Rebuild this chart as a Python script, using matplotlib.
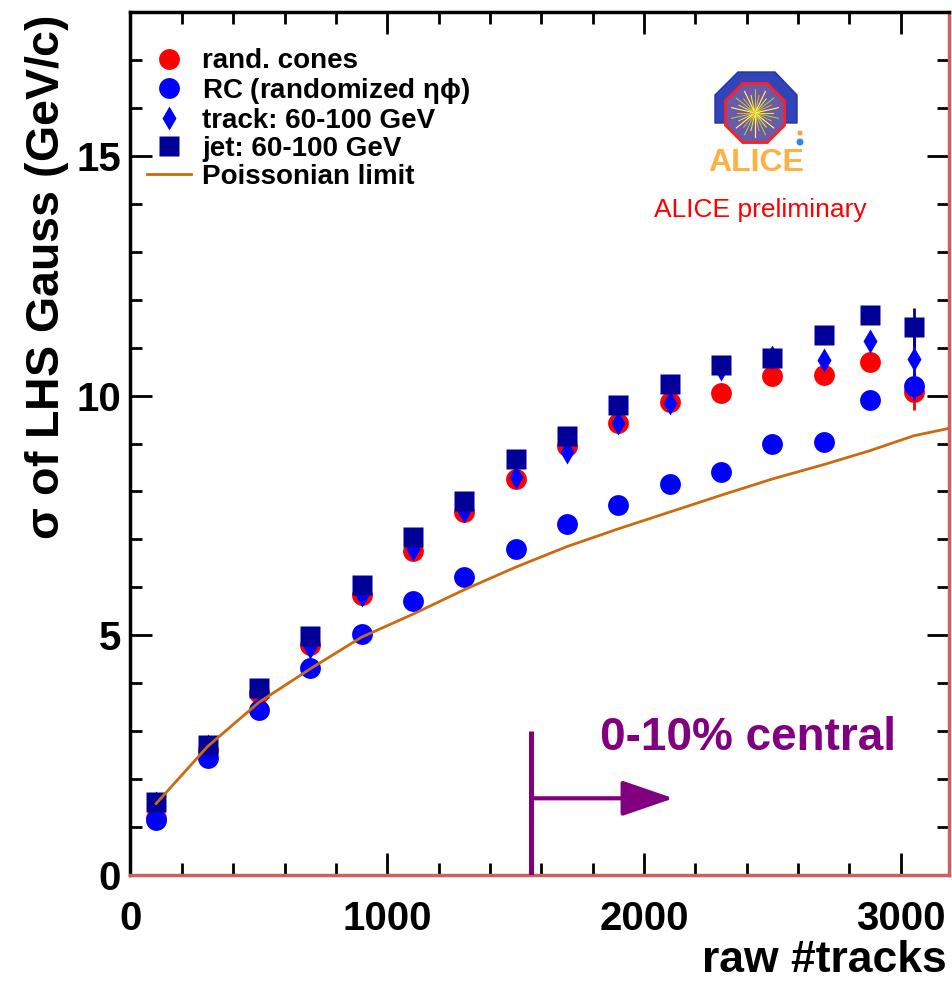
import numpy as np
import matplotlib
matplotlib.use("Agg")
import matplotlib.pyplot as plt
from matplotlib.patches import Polygon, RegularPolygon, Circle

plt.rcParams['font.family'] = ['Liberation Sans', 'DejaVu Sans']

# data
raw_tracks = [100, 300, 500, 700, 900, 1100, 1300, 1500, 1700, 1900,
              2100, 2300, 2500, 2700, 2880, 3050]
rand_cones = [1.18, 2.60, 3.80, 4.80, 5.85, 6.75, 7.57, 8.26, 8.95, 9.42,
              9.87, 10.06, 10.40, 10.42, 10.71, 10.08]
rand_cones_err = [0.05, 0.05, 0.05, 0.05, 0.05, 0.05, 0.05, 0.05, 0.05, 0.05,
                  0.08, 0.08, 0.1, 0.1, 0.15, 0.38]
rc_randomized = [1.15, 2.45, 3.45, 4.31, 5.02, 5.71, 6.21, 6.80, 7.32, 7.72,
                 8.16, 8.41, 9.00, 9.04, 9.90, 10.20]
rc_randomized_err = [0.03] * 15 + [0.3]
track_60_100 = [1.50, 2.70, 3.85, 4.75, 5.85, 6.80, 7.60, 8.30, 8.83, 9.43,
                9.85, 10.55, 10.80, 10.75, 11.13, 10.77]
track_60_100_err = [0.05] * 14 + [0.12, 0.5]
jet_60_100 = [1.53, 2.72, 3.91, 4.98, 6.05, 7.06, 7.80, 8.68, 9.16, 9.81,
              10.25, 10.63, 10.79, 11.26, 11.67, 11.42]
jet_60_100_err = [0.05] * 14 + [0.1, 0.4]

poisson_x = [100, 300, 500, 700, 900, 1100, 1300, 1500, 1700, 1900,
             2100, 2300, 2500, 2700, 2880, 3050, 3200]
poisson_y = [1.49, 2.68, 3.60, 4.30, 4.96, 5.44, 5.95, 6.42, 6.85, 7.22,
             7.57, 7.92, 8.26, 8.56, 8.85, 9.16, 9.33]

central_cut = 1561     # start of 0-10% central
cut_line_top = 3.0
arrow_y = 1.6
arrow_end = 2115

W, H = 953, 986
fig = plt.figure(figsize=(W / 100, H / 100), dpi=100)
ax = fig.add_axes([130.5 / W, 1 - 875 / H, 819 / W, 863 / H])

ax.errorbar(raw_tracks, rand_cones, yerr=rand_cones_err, fmt='none', ecolor='#ff0000', elinewidth=2, zorder=2)
ax.plot(raw_tracks, rand_cones, 'o', color='#ff0000', ms=15, mec='none', zorder=3, label='rand. cones')
ax.errorbar(raw_tracks, rc_randomized, yerr=rc_randomized_err, fmt='none', ecolor='#0000ff', elinewidth=2, zorder=4)
ax.plot(raw_tracks, rc_randomized, 'o', color='#0000ff', ms=15, mec='none', zorder=5,
        label='RC (randomized $\\mathregular{\\eta\\phi}$)')
ax.errorbar(raw_tracks, track_60_100, yerr=track_60_100_err, fmt='none', ecolor='#0000ff', elinewidth=2, zorder=6)
ax.plot(raw_tracks, track_60_100, 'd', color='#0000ff', ms=12, mec='none', zorder=7, label='track: 60-100 GeV')
ax.errorbar(raw_tracks, jet_60_100, yerr=jet_60_100_err, fmt='none', ecolor='#000099', elinewidth=2, zorder=8)
ax.plot(raw_tracks, jet_60_100, 's', color='#000099', ms=14.4, mec='none', zorder=9, label='jet: 60-100 GeV')
ax.plot(poisson_x, poisson_y, '-', color='#cc6a10', lw=2.0, zorder=10, label='Poissonian limit')

ax.set_xlim(0, 3190)
ax.set_ylim(0, 18)
ax.set_xticks([0, 1000, 2000, 3000])
ax.set_xticks(np.arange(0, 3200, 200), minor=True)
ax.set_yticks([0, 5, 10, 15])
ax.set_yticks(np.arange(0, 18, 1), minor=True)
ax.tick_params(which='both', direction='in', top=True, right=True, width=2, color='black')
ax.tick_params(which='major', length=16, labelsize=29)
ax.tick_params(which='minor', length=8.5)
ax.tick_params(axis='x', pad=18)
ax.tick_params(axis='y', pad=7)
for lbl in ax.get_xticklabels() + ax.get_yticklabels():
    lbl.set_fontweight('bold')
for side in ['left', 'top']:
    ax.spines[side].set_linewidth(2.5)
    ax.spines[side].set_color('black')
for side in ['bottom', 'right']:
    ax.spines[side].set_linewidth(2.5)
    ax.spines[side].set_color('#d06060')

leg = ax.legend(loc='upper left', bbox_to_anchor=(0.02, 0.958), frameon=False,
                prop={'size': 20, 'weight': 'bold'}, borderpad=0, borderaxespad=0,
                handlelength=1.6, handletextpad=0.4, labelspacing=0.07)

# centrality marker
ax.plot([central_cut, central_cut], [0, cut_line_top], color='#800080', lw=3.6, zorder=11,
        solid_capstyle='butt')
ax.annotate('', xy=(arrow_end, arrow_y), xytext=(central_cut, arrow_y),
            arrowprops=dict(arrowstyle='-|>,head_length=3.2,head_width=1.1', color='#800080',
                            lw=3, shrinkA=0, shrinkB=0), zorder=11)
fig.text(600 / W, 1 - 738 / H, '0-10% central', color='#800080', fontsize=33,
         fontweight='bold', ha='left', va='center')

fig.text(47 / W, 1 - 278 / H, '$\\mathregular{\\sigma}$ of LHS Gauss (GeV/c)', rotation=90,
         fontsize=33.5, fontweight='bold', ha='center', va='center')
fig.text(947 / W, 1 - 960 / H, 'raw #tracks', fontsize=32, fontweight='bold',
         ha='right', va='center')

fig.text(760 / W, 1 - 210 / H, 'ALICE preliminary', color='#ff0000', fontsize=19,
         ha='center', va='center')

# ALICE logo sketch, in pixel coordinates
lax = fig.add_axes([700 / W, 1 - 180 / H, 115 / W, 115 / H])
lax.set_xlim(700, 815)
lax.set_ylim(180, 65)
lax.axis('off')
lax.add_patch(Polygon([(738, 72), (775, 72), (797, 95), (797, 123), (715, 123), (715, 95)],
                      closed=True, fc='#3344bb', ec='#2233aa', lw=1))
lax.add_patch(RegularPolygon((755, 113), 8, radius=32, orientation=np.pi / 8,
                             fc='#6a5aa8', ec='#ff2020', lw=2))
for k, ang in enumerate(np.linspace(0, 2 * np.pi, 28, endpoint=False)):
    col = ['#ffdd33', '#88dd44', '#ff9933', '#ffff66'][k % 4]
    r = 24 if k % 2 else 18
    lax.plot([755, 755 + r * np.cos(ang)], [113, 113 + r * np.sin(ang)], color=col, lw=0.8)
lax.add_patch(Circle((755, 113), 5, fc='#ff9933', ec='none'))
lax.add_patch(Circle((800, 133), 2.5, fc='#ff9933', ec='none'))
lax.add_patch(Circle((800, 142), 3.5, fc='#3388dd', ec='none'))
lax.text(756, 163, 'ALICE', color='#ffb040', fontsize=23, fontweight='bold', ha='center', va='center')

fig.savefig('out.png', dpi=100)
